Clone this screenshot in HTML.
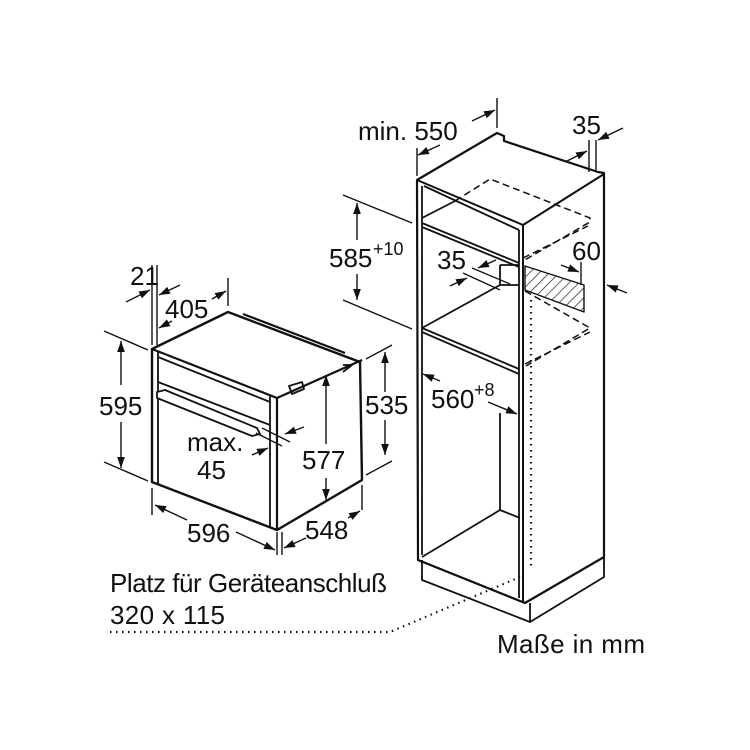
<!DOCTYPE html>
<html><head><meta charset="utf-8"><style>
html,body{margin:0;padding:0;background:#fff}
svg{display:block}
text{font-family:"Liberation Sans",Arial,sans-serif;font-size:26px;fill:#111}
</style></head><body>
<svg width="750" height="750" viewBox="0 0 750 750" xmlns="http://www.w3.org/2000/svg">
<defs>
<marker id="a" viewBox="0 0 10 10" refX="10" refY="5" markerWidth="11" markerHeight="11" markerUnits="userSpaceOnUse" orient="auto-start-reverse"><path d="M0,1.5 L10,5 L0,8.5 z" fill="#111"/></marker>
<pattern id="h" width="7" height="7" patternUnits="userSpaceOnUse" patternTransform="rotate(45)"><line x1="0" y1="0" x2="0" y2="7" stroke="#111" stroke-width="1.3"/></pattern>
</defs>
<g stroke="#111" fill="none" stroke-width="1.8" stroke-linejoin="round">
<!-- OVEN -->
<path d="M152,349 L228,312 L360,362 L362,480 L277,530 L152,482 Z" fill="#fff" stroke-width="2.4"/>
<path d="M152,349 L277,398 L362,360" stroke-width="2.2"/>
<line x1="277" y1="398" x2="277" y2="530" stroke-width="2.2"/>
<line x1="270" y1="395" x2="270" y2="528"/>
<line x1="158" y1="352" x2="158" y2="484"/>
<line x1="158" y1="357" x2="270" y2="402"/>
<line x1="158" y1="382" x2="270" y2="425"/>
<path d="M157,392 L165,390 L257,428 L260,434 L252,436 L157,398 Z" fill="#fff"/>
<path d="M243,314 L345,353" stroke-width="2.2"/>
<path d="M343,365 L352,365 L343,372" />
<path d="M292,394 L304,389 L302,382 L289,386 Z" />
<!-- oven dims -->
<line x1="152" y1="265" x2="152" y2="345" stroke-width="1.4"/>
<line x1="157" y1="265" x2="157" y2="345" stroke-width="1.4"/>
<line x1="228" y1="278" x2="228" y2="306" stroke-width="1.4"/>
<line x1="126" y1="302" x2="150" y2="290" marker-end="url(#a)" stroke-width="1.4"/>
<line x1="180" y1="285" x2="159" y2="295" marker-end="url(#a)" stroke-width="1.4"/>
<line x1="159" y1="328" x2="172" y2="321" marker-start="url(#a)" stroke-width="1.4"/>
<line x1="212" y1="299" x2="226" y2="291" marker-end="url(#a)" stroke-width="1.4"/>
<line x1="104" y1="331" x2="148" y2="350" stroke-width="1.4"/>
<line x1="104" y1="462" x2="148" y2="481" stroke-width="1.4"/>
<line x1="121" y1="341" x2="121" y2="385" marker-start="url(#a)" stroke-width="1.4"/>
<line x1="121" y1="422" x2="121" y2="468" marker-end="url(#a)" stroke-width="1.4"/>
<line x1="152" y1="488" x2="152" y2="515" stroke-width="1.4"/>
<line x1="277" y1="532" x2="277" y2="555" stroke-width="1.4"/>
<line x1="282" y1="532" x2="282" y2="555" stroke-width="1.4"/>
<line x1="362" y1="485" x2="362" y2="510" stroke-width="1.4"/>
<line x1="155" y1="505" x2="187" y2="520" marker-start="url(#a)" stroke-width="1.4"/>
<line x1="236" y1="532" x2="275" y2="550" marker-end="url(#a)" stroke-width="1.4"/>
<line x1="284" y1="548" x2="306" y2="538" marker-start="url(#a)" stroke-width="1.4"/>
<line x1="348" y1="518" x2="360" y2="511" marker-end="url(#a)" stroke-width="1.4"/>
<line x1="366" y1="359" x2="392" y2="345" stroke-width="1.4"/>
<line x1="366" y1="475" x2="392" y2="461" stroke-width="1.4"/>
<line x1="385" y1="352" x2="385" y2="392" marker-start="url(#a)" stroke-width="1.4"/>
<line x1="385" y1="420" x2="385" y2="455" marker-end="url(#a)" stroke-width="1.4"/>
<line x1="326" y1="375" x2="326" y2="444" marker-start="url(#a)" stroke-width="1.4"/>
<line x1="326" y1="478" x2="326" y2="500" marker-end="url(#a)" stroke-width="1.4"/>
<line x1="262" y1="428" x2="290" y2="442" stroke-width="1.3"/>
<line x1="256" y1="433" x2="282" y2="446" stroke-width="1.3"/>
<line x1="304" y1="427" x2="285" y2="434" marker-end="url(#a)" stroke-width="1.4"/>
<line x1="252" y1="455" x2="268" y2="448" marker-end="url(#a)" stroke-width="1.4"/>
<!-- CABINET -->
<path d="M417,180 L497,133 L504,136 L504,141 L598,172 L604,173 L604,557 L525,603 L418,560 Z" fill="#fff" stroke-width="2.2"/>
<path d="M417,180 L523,225 L604,174" stroke-width="2"/>
<line x1="523" y1="225" x2="523" y2="603" stroke-width="2"/>
<line x1="519" y1="230" x2="519" y2="598"/>
<line x1="422" y1="186" x2="422" y2="555"/>
<line x1="424" y1="186" x2="519" y2="230"/>
<line x1="422" y1="223" x2="519" y2="263"/>
<line x1="422" y1="227" x2="519" y2="267"/>
<line x1="422" y1="218" x2="457" y2="200"/>
<line x1="422" y1="328" x2="519" y2="369"/>
<line x1="422" y1="332" x2="519" y2="374"/>
<line x1="422" y1="328" x2="500" y2="285"/>
<line x1="500" y1="265" x2="500" y2="285"/>
<line x1="500" y1="265" x2="519" y2="265"/>
<line x1="500" y1="285" x2="519" y2="285"/>
<line x1="500" y1="413" x2="500" y2="510"/>
<line x1="500" y1="510" x2="520" y2="518"/>
<line x1="422" y1="557" x2="500" y2="510"/>
<line x1="418" y1="560" x2="525" y2="603"/>
<path d="M422,560 L422,580 L530,622 L604,577 L604,557"/>
<line x1="530" y1="603" x2="530" y2="622"/>
<g stroke-dasharray="7,4" stroke-width="1.5">
<path d="M455,201 L490,179 L590,218 L590,222 L523,261"/>
<path d="M523,258 L588,226"/>
<path d="M525,291 L590,328 L526,366"/>
<path d="M525,364 L590,332"/>
</g>
<path d="M525,266 L584,285 L584,312 L525,290 Z" fill="url(#h)" stroke-width="1.4"/>
<g stroke-dasharray="1.5,4.5" stroke-width="2.2"><line x1="531" y1="300" x2="531" y2="570"/><path d="M110,632 L390,632 L520,577"/></g>
<!-- cabinet dims -->
<line x1="417" y1="148" x2="417" y2="176" stroke-width="1.4"/>
<line x1="497" y1="98" x2="497" y2="128" stroke-width="1.4"/>
<line x1="440" y1="145" x2="418" y2="155" marker-end="url(#a)" stroke-width="1.4"/>
<line x1="472" y1="121" x2="495" y2="110" marker-end="url(#a)" stroke-width="1.4"/>
<line x1="589" y1="140" x2="589" y2="172" stroke-width="1.4"/>
<line x1="596" y1="140" x2="596" y2="172" stroke-width="1.4"/>
<line x1="565" y1="162" x2="587" y2="151" marker-end="url(#a)" stroke-width="1.4"/>
<line x1="623" y1="128" x2="598" y2="140" marker-end="url(#a)" stroke-width="1.4"/>
<line x1="343" y1="195" x2="412" y2="223" stroke-width="1.4"/>
<line x1="343" y1="300" x2="412" y2="329" stroke-width="1.4"/>
<line x1="357" y1="203" x2="357" y2="240" marker-start="url(#a)" stroke-width="1.4"/>
<line x1="357" y1="274" x2="357" y2="300" marker-end="url(#a)" stroke-width="1.4"/>
<line x1="472" y1="268" x2="510" y2="284" stroke-width="1.3"/>
<line x1="463" y1="273" x2="500" y2="290" stroke-width="1.3"/>
<line x1="496" y1="260" x2="478" y2="268" marker-end="url(#a)" stroke-width="1.4"/>
<line x1="450" y1="286" x2="467" y2="278" marker-end="url(#a)" stroke-width="1.4"/>
<line x1="581" y1="262" x2="581" y2="285" stroke-width="1.4"/>
<line x1="561" y1="265" x2="579" y2="272" marker-end="url(#a)" stroke-width="1.4"/>
<line x1="627" y1="293" x2="607" y2="285" marker-end="url(#a)" stroke-width="1.4"/>
<line x1="423" y1="374" x2="440" y2="381" marker-start="url(#a)" stroke-width="1.4"/>
<line x1="488" y1="402" x2="517" y2="414" marker-end="url(#a)" stroke-width="1.4"/>
</g>
<g>
<text x="130" y="285">21</text>
<text x="165" y="318">405</text>
<text x="99" y="415">595</text>
<text x="365" y="414">535</text>
<text x="302" y="469">577</text>
<text x="187" y="451">max.</text>
<text x="197" y="479">45</text>
<text x="187" y="542">596</text>
<text x="305" y="539">548</text>
<text x="358" y="140">min. 550</text>
<text x="572" y="134">35</text>
<text x="329" y="267">585</text><text x="373" y="255" style="font-size:18px">+10</text>
<text x="437" y="269">35</text>
<text x="572" y="260">60</text>
<text x="431" y="408">560</text><text x="474" y="396" style="font-size:18px">+8</text>
<text x="110" y="592" textLength="277">Platz für Geräteanschluß</text>
<text x="110" y="624" textLength="115">320 x 115</text>
<text x="497" y="653" textLength="148">Maße in mm</text>
</g>
</svg>
</body></html>
